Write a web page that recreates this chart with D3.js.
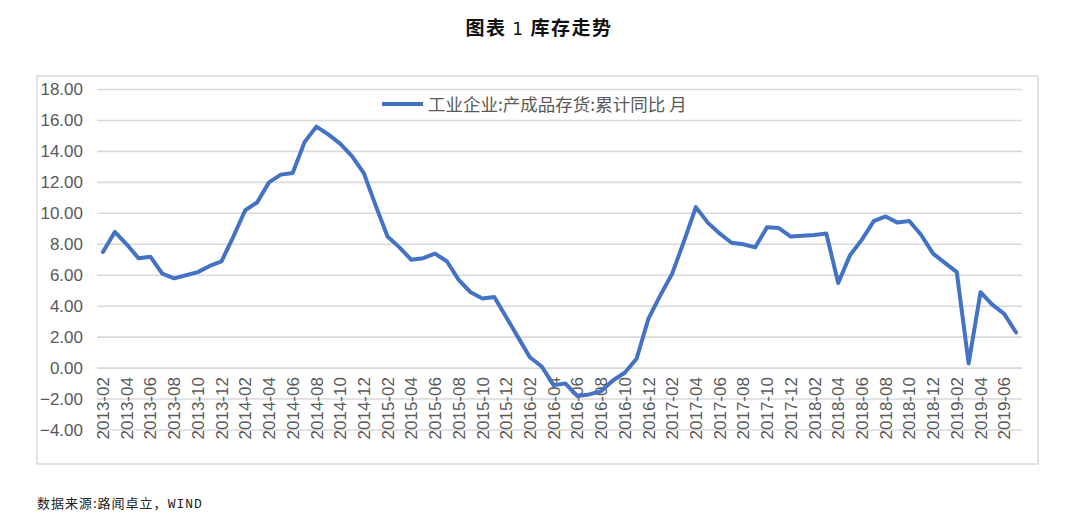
<!DOCTYPE html>
<html lang="zh">
<head>
  <meta charset="UTF-8">
  <script src="https://cdn.jsdelivr.net/npm/d3@7"></script>
  <title>库存走势</title>
  <style>
    body { margin: 0; background: #fff; }
    svg { display: block; }
    .tick text { font-family: "Liberation Sans", Arial, sans-serif; fill: #595959; }
  </style>
</head>
<body>
<div id="chart"></div>
<script>
  // months 2013-02 .. 2019-07
  var months = d3.timeMonths(new Date(2013, 1, 1), new Date(2019, 7, 1)).map(d3.timeFormat("%Y-%m"));

  // 工业企业:产成品存货:累计同比 (%)
  var inventoryYoY = [
    7.5, 8.8, 8.0, 7.1, 7.2, 6.1, 5.8, 6.0, 6.2, 6.6, 6.9,           // 2013
    8.5, 10.2, 10.7, 12.0, 12.5, 12.6, 14.6, 15.6, 15.1, 14.5, 13.7, 12.6, // 2014
    10.5, 8.5, 7.8, 7.0, 7.1, 7.4, 6.9, 5.7, 4.9, 4.5, 4.6, 3.3,     // 2015
    2.0, 0.7, 0.1, -1.1, -1.0, -1.8, -1.7, -1.5, -0.8, -0.3, 0.6, 3.2, // 2016
    4.7, 6.1, 8.2, 10.4, 9.4, 8.7, 8.1, 8.0, 7.8, 9.1, 9.05, 8.5,    // 2017
    8.55, 8.6, 8.7, 5.5, 7.3, 8.3, 9.5, 9.8, 9.4, 9.5, 8.6, 7.4,     // 2018
    6.8, 6.2, 0.3, 4.9, 4.1, 3.5, 2.3                                 // 2019
  ];
  var yTicks = [-4, -2, 0, 2, 4, 6, 8, 10, 12, 14, 16, 18];
  var seriesName = "工业企业:产成品存货:累计同比 月";

  var W = 1080, H = 521;
  var plot = {left: 97, right: 1022, top: 89.5, bottom: 430};

  var svg = d3.select("#chart").append("svg")
      .attr("width", W)
      .attr("height", H);

  // title, the number is set in a lighter face
  var title = svg.append("text")
    .attr("x", 539).attr("y", 35)
    .attr("text-anchor", "middle")
    .attr("font-family", "Noto Sans CJK SC")
    .attr("font-weight", "bold")
    .attr("font-size", 19)
    .attr("letter-spacing", 1.5)
    .attr("fill", "#111");
  title.append("tspan").text("图表 ");
  title.append("tspan").attr("font-weight", "normal").attr("font-family", "DejaVu Sans").attr("font-size", 17).text("1");
  title.append("tspan").text(" 库存走势");

  // chart frame
  svg.append("rect")
    .attr("x", 37).attr("y", 76)
    .attr("width", 1001).attr("height", 388)
    .attr("fill", "none")
    .attr("stroke", "#d9d9d9")
    .attr("stroke-width", 1.5);

  var x = d3.scaleBand().domain(months).range([plot.left, plot.right]);
  var y = d3.scaleLinear().domain([-4, 18]).range([plot.bottom, plot.top]);
  var cx = function(m) { return x(m) + x.bandwidth() / 2; };

  // gridlines
  svg.append("g")
    .selectAll("line")
    .data(yTicks)
    .enter().append("line")
      .attr("x1", plot.left).attr("x2", plot.right)
      .attr("y1", function(d) { return y(d); })
      .attr("y2", function(d) { return y(d); })
      .attr("stroke", "#d9d9d9")
      .attr("stroke-width", 1.6);

  // y axis labels
  var yAxis = svg.append("g")
    .attr("transform", "translate(" + plot.left + ",0)")
    .call(d3.axisLeft(y).tickValues(yTicks).tickFormat(d3.format(".2f")).tickSize(0).tickPadding(14));
  yAxis.select(".domain").remove();
  yAxis.selectAll("text").attr("font-size", 17);

  // x axis labels (every other month), hanging below the zero line
  var xAxis = svg.append("g")
    .attr("transform", "translate(0," + y(0) + ")")
    .call(d3.axisBottom(x).tickValues(months.filter(function(d, i) { return i % 2 === 0; })).tickSize(0));
  xAxis.select(".domain").remove();
  xAxis.selectAll("text")
    .attr("font-size", 17)
    .attr("text-anchor", "end")
    .attr("transform", "rotate(-90)")
    .attr("x", -9)
    .attr("y", 0)
    .attr("dy", "0.36em");

  // series line
  var line = d3.line()
    .x(function(d, i) { return cx(months[i]); })
    .y(function(d) { return y(d); });

  svg.append("path")
    .datum(inventoryYoY)
    .attr("d", line)
    .attr("fill", "none")
    .attr("stroke", "#4472c4")
    .attr("stroke-width", 4)
    .attr("stroke-linejoin", "round")
    .attr("stroke-linecap", "round");

  // legend
  svg.append("line")
    .attr("x1", 382).attr("x2", 423)
    .attr("y1", 104).attr("y2", 104)
    .attr("stroke", "#4472c4")
    .attr("stroke-width", 4);

  svg.append("text")
    .attr("x", 428).attr("y", 110.5)
    .attr("font-family", "Noto Sans CJK SC")
    .attr("font-size", 17.5)
    .attr("fill", "#595959")
    .text(seriesName);

  // source note
  var note = svg.append("text")
    .attr("x", 37).attr("y", 508)
    .attr("font-family", "Noto Sans CJK SC")
    .attr("font-size", 13)
    .attr("letter-spacing", 1)
    .attr("fill", "#222");
  note.append("tspan").text("数据来源:路闻卓立，");
  note.append("tspan").attr("font-family", "Liberation Mono").text("WIND");
</script>
</body>
</html>
